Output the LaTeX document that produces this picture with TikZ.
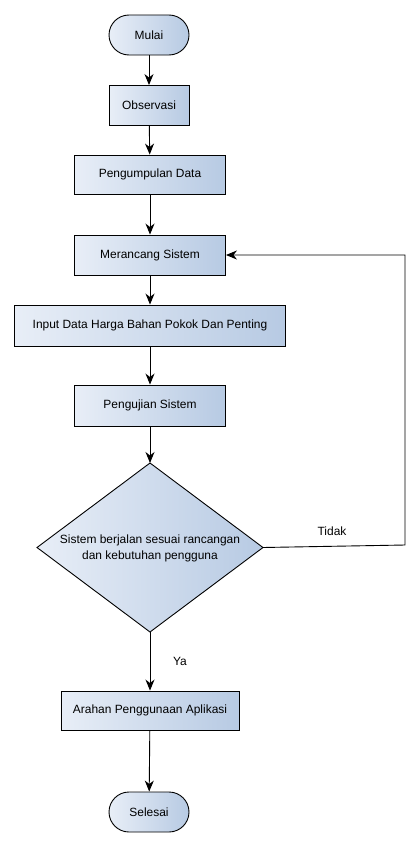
\documentclass[tikz,border=0pt]{standalone}
\usepackage{fontspec}
\setmainfont{Liberation Sans}
\usetikzlibrary{arrows.meta,shapes.geometric}
\definecolor{gL}{HTML}{E8EEF7}
\definecolor{gR}{HTML}{B7CAE3}
\tikzset{
  base/.style={draw=black, line width=0.9bp, left color=gL, right color=gR, font=\fontsize{12}{16}\selectfont, text=black, align=center, inner sep=0pt},
  procbox/.style={base, rectangle, minimum height=40bp},
  termbox/.style={base, rectangle, rounded corners=20bp, minimum width=80bp, minimum height=40bp},
  conn/.style={draw=black, line width=0.9bp, -{Stealth[length=11bp,width=9bp,inset=3.5bp]}},
  lbl/.style={font=\fontsize{12}{14}\selectfont, text=black, inner sep=0pt}
}
\begin{document}
\begin{tikzpicture}[x=1bp,y=-1bp]
\useasboundingbox (0,0) rectangle (419,847);
\node[termbox] (mulai) at (149,35) {Mulai};
\node[procbox, minimum width=80bp] (obs) at (149,105.5) {Observasi};
\node[procbox, minimum width=151bp, minimum height=39bp] (kumpul) at (150,174.5) {Pengumpulan Data};
\node[procbox, minimum width=151bp] (rancang) at (150,255) {Merancang Sistem};
\node[procbox, minimum width=271bp, minimum height=41bp] (input) at (150,325.5) {Input Data Harga Bahan Pokok Dan Penting};
\node[procbox, minimum width=151bp, minimum height=41bp] (uji) at (150,405.5) {Pengujian Sistem};
% decision diamond
\coordinate (dtop) at (150,463);
\coordinate (dright) at (263,547.5);
\coordinate (dbot) at (150,632);
\coordinate (dleft) at (37,547.5);
\path[base, shading angle=90] (dtop) -- (dright) -- (dbot) -- (dleft) -- cycle;
\node[font=\fontsize{12}{16}\selectfont, align=center, text=black, inner sep=0pt] (dec) at (150,548) {Sistem berjalan sesuai rancangan\\dan kebutuhan pengguna};
\node[procbox, minimum width=178bp, minimum height=39bp] (arahan) at (150,710.5) {Arahan Penggunaan Aplikasi};
\node[termbox] (selesai) at (149,812) {Selesai};
\coordinate (rc) at (405,545);
\draw[conn] (mulai) -- (obs);
\draw[conn] (obs) -- (kumpul);
\draw[conn] (kumpul) -- (rancang);
\draw[conn] (rancang) -- (input);
\draw[conn] (input) -- (uji);
\draw[conn] (uji) -- (dtop);
\draw[conn] (dbot) -- (arahan);
\draw[conn] (arahan) -- (selesai);
\draw[conn] (dright) -- (rc) |- (rancang.east);
\node[lbl] (tidak) at (332,531) {Tidak};
\node[lbl] (ya) at (180,661) {Ya};
\end{tikzpicture}
\end{document}
